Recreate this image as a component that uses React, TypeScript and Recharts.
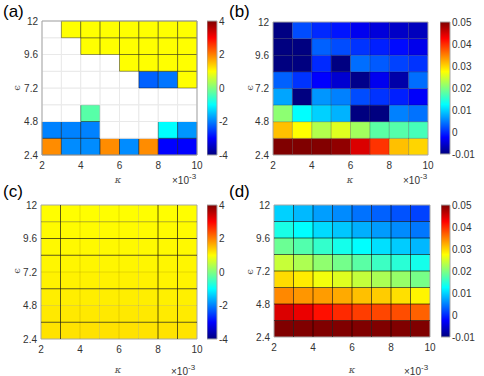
import React from 'react';
import { ComposedChart, XAxis, YAxis, ReferenceArea, ReferenceLine } from 'recharts';

// ---- data ----
const kappaEdges = [2, 3, 4, 5, 6, 7, 8, 9, 10];
const epsEdges = [2.4, 3.6, 4.8, 6.0, 7.2, 8.4, 9.6, 10.8, 12];
const kappaTicks = [2, 4, 6, 8, 10];
const epsTicks = [2.4, 4.8, 7.2, 9.6, 12];
const cbTicksA = [-4, -2, 0, 2, 4];
const cbTicksB = [-0.01, 0, 0.01, 0.02, 0.03, 0.04, 0.05];
const rangeA: [number, number] = [-4, 4];
const rangeB: [number, number] = [-0.01, 0.05];

// rows listed from bottom (eps 2.4-3.6) to top (eps 10.8-12); null = no value
const panelA: (number | null)[][] = [
  [1.9, -1.9, -1.9, 1.9, -1.9, 1.9, -3.0, -3.0],
  [-1.98, -1.98, -1.98, null, null, null, -1.0, -1.82],
  [null, null, -0.32, null, null, null, null, null],
  [null, null, null, null, null, null, null, null],
  [null, null, null, null, null, -2.24, -2.08, 1.0],
  [null, null, null, null, 1.0, 1.0, 1.0, 1.0],
  [null, null, 1.0, 1.0, 1.0, 1.0, 1.0, 1.0],
  [null, 1.0, 1.0, 1.0, 1.0, 1.0, 1.0, 1.0],
];
const panelB: number[][] = [
  [0.05, 0.05, 0.0498, 0.049, 0.0446, 0.0395, 0.0312, 0.03],
  [0.0312, 0.0275, 0.023, 0.0256, 0.022, 0.0178, 0.0175, 0.0166],
  [0.0208, 0.0125, 0.0098, 0.008, -0.01, -0.01, 0.0051, 0.0042],
  [0.0072, -0.01, 0.0063, 0.0051, 0.002, 0.0005, -0.0007, -0.0028],
  [0.0032, 0.0005, -0.0025, -0.0052, -0.0094, -0.0034, -0.0076, 0.004],
  [-0.01, -0.01, -0.0001, -0.0099, 0.004, 0.0028, 0.0014, 0.0005],
  [-0.01, -0.01, 0.0032, 0.002, 0.0005, -0.0007, -0.0019, -0.0037],
  [-0.0098, 0.002, -0.0001, -0.0013, -0.0034, -0.0046, -0.0058, -0.0064],
];
const panelC: number[][] = [
  [1.22, 1.22, 1.23, 1.23, 1.23, 1.22, 1.22, 1.21],
  [1.17, 1.17, 1.17, 1.17, 1.17, 1.17, 1.16, 1.16],
  [1.13, 1.13, 1.13, 1.13, 1.13, 1.13, 1.12, 1.12],
  [1.1, 1.1, 1.1, 1.1, 1.1, 1.1, 1.09, 1.09],
  [1.07, 1.07, 1.07, 1.07, 1.07, 1.07, 1.07, 1.07],
  [1.05, 1.05, 1.05, 1.05, 1.05, 1.05, 1.05, 1.05],
  [1.03, 1.03, 1.03, 1.03, 1.03, 1.03, 1.03, 1.03],
  [1.01, 1.01, 1.01, 1.01, 1.01, 1.01, 1.01, 1.01],
];
const panelD: number[][] = [
  [0.052, 0.052, 0.051, 0.051, 0.05, 0.05, 0.05, 0.05],
  [0.0446, 0.0437, 0.0416, 0.0401, 0.0389, 0.0384, 0.038, 0.0368],
  [0.0345, 0.0337, 0.0333, 0.0325, 0.0312, 0.0305, 0.0293, 0.0281],
  [0.0296, 0.0286, 0.0268, 0.0256, 0.024, 0.0225, 0.0213, 0.0195],
  [0.0242, 0.0227, 0.021, 0.0193, 0.0178, 0.016, 0.0149, 0.0137],
  [0.0188, 0.0173, 0.0155, 0.0137, 0.0125, 0.0107, 0.0095, 0.0083],
  [0.014, 0.0125, 0.0104, 0.0092, 0.0078, 0.0066, 0.0057, 0.0045],
  [0.0098, 0.0084, 0.0068, 0.0057, 0.0042, 0.0032, 0.0023, 0.0014],
];
// panel (c) edge lines
const cDarkX = [3, 8, 9];
const cFaintX = [4, 5, 6, 7];
const cDarkY = [3.6, 6.0, 8.4, 9.6];
const cMidY = [10.8];
const cFaintY = [4.8, 7.2];

// ---- helpers ----
const FONT = '"Liberation Sans", Arial, Helvetica, sans-serif';
const TXT = '#333333';

function clamp01(v: number) {
  return Math.max(0, Math.min(1, v));
}
function jet(v: number, range: [number, number]) {
  const t = clamp01((v - range[0]) / (range[1] - range[0]));
  const r = clamp01(1.5 - Math.abs(4 * t - 3));
  const g = clamp01(1.5 - Math.abs(4 * t - 2));
  const b = clamp01(1.5 - Math.abs(4 * t - 1));
  return `rgb(${Math.round(r * 255)},${Math.round(g * 255)},${Math.round(b * 255)})`;
}

const tickStyle = { fill: TXT, fontSize: 10, fontFamily: FONT };

type Margin = { top: number; right: number; bottom: number; left: number };

function Heatmap(props: {
  values: (number | null)[][];
  range: [number, number];
  left: number;
  top: number;
  width: number;
  height: number;
  margin: Margin;
  cellStroke?: string;
  lines?: { x?: number; y?: number; stroke: string }[];
}) {
  const { values, range, left, top, width, height, margin, cellStroke, lines } = props;
  const cells: React.ReactNode[] = [];
  values.forEach((row, ri) => {
    row.forEach((v, ci) => {
      const isNull = v === null;
      cells.push(
        <ReferenceArea
          key={`c-${ri}-${ci}`}
          x1={kappaEdges[ci]}
          x2={kappaEdges[ci + 1]}
          y1={epsEdges[ri]}
          y2={epsEdges[ri + 1]}
          fill={isNull ? '#ffffff' : jet(v as number, range)}
          fillOpacity={1}
          stroke={cellStroke ? (isNull ? '#e9e9e9' : cellStroke) : 'none'}
          strokeWidth={1}
          ifOverflow="visible"
        />
      );
    });
  });
  return (
    <div style={{ position: 'absolute', left, top, width, height }}>
      <ComposedChart width={width} height={height} margin={margin}>
        <XAxis
          type="number"
          dataKey="x"
          domain={[2, 10]}
          ticks={kappaTicks}
          allowDataOverflow
          axisLine={false}
          tickLine={false}
          tickSize={2}
          tickMargin={5}
          height={20}
          interval={0}
          tick={tickStyle}
        />
        <YAxis
          type="number"
          dataKey="y"
          domain={[2.4, 12]}
          ticks={epsTicks}
          allowDataOverflow
          axisLine={false}
          tickLine={false}
          tickSize={2}
          tickMargin={2}
          width={30}
          interval={0}
          tick={tickStyle}
          tickFormatter={(v: number) => String(v)}
        />
        {cells}
        {(lines || []).map((l, i) =>
          l.x !== undefined ? (
            <ReferenceLine key={`lx${i}`} x={l.x} stroke={l.stroke} strokeWidth={1} ifOverflow="visible" />
          ) : (
            <ReferenceLine key={`ly${i}`} y={l.y} stroke={l.stroke} strokeWidth={1} ifOverflow="visible" />
          )
        )}
        <ReferenceArea
          x1={2}
          x2={10}
          y1={2.4}
          y2={12}
          fill="none"
          fillOpacity={0}
          stroke="#a6a6a6"
          strokeWidth={1}
          ifOverflow="visible"
        />
      </ComposedChart>
    </div>
  );
}

function Colorbar(props: {
  range: [number, number];
  ticks: number[];
  left: number;
  top: number;
  width: number;
  height: number;
  margin: Margin;
  axisWidth: number;
}) {
  const { range, ticks, left, top, width, height, margin, axisWidth } = props;
  return (
    <div style={{ position: 'absolute', left, top, width, height }}>
      <ComposedChart width={width} height={height} margin={margin}>
        <XAxis type="number" dataKey="x" domain={[0, 1]} hide allowDataOverflow />
        <YAxis
          type="number"
          dataKey="y"
          orientation="right"
          domain={range}
          ticks={ticks}
          allowDataOverflow
          axisLine={false}
          tickLine={false}
          tickSize={2}
          tickMargin={0}
          width={axisWidth}
          interval={0}
          tick={{ ...tickStyle, textAnchor: 'start' }}
          tickFormatter={(v: number) => String(v)}
        />
        <ReferenceArea
          x1={0}
          x2={1}
          y1={range[0]}
          y2={range[1]}
          fill="url(#jetGrad)"
          fillOpacity={1}
          stroke="#a6a6a6"
          strokeWidth={1}
          ifOverflow="visible"
        />
      </ComposedChart>
    </div>
  );
}

const panelLabels = [
  { t: '(a)', x: 3, y: 17 },
  { t: '(b)', x: 229, y: 17 },
  { t: '(c)', x: 3, y: 197 },
  { t: '(d)', x: 229, y: 197 },
];
const kappaLabels = [
  { x: 118, y: 183 },
  { x: 350, y: 183 },
  { x: 118, y: 373 },
  { x: 352, y: 373 },
];
const epsLabels = [
  { x: 16, y: 88 },
  { x: 249, y: 88 },
  { x: 16, y: 271 },
  { x: 249, y: 272 },
];
const scaleLabels = [
  { x: 172, y: 184 },
  { x: 403, y: 184 },
  { x: 171, y: 375 },
  { x: 404, y: 375 },
];

export default function App() {
  const cLines = [
    ...cFaintX.map((x) => ({ x, stroke: 'rgba(150,130,0,0.25)' })),
    ...cFaintY.map((y) => ({ y, stroke: 'rgba(150,130,0,0.25)' })),
    ...cMidY.map((y) => ({ y, stroke: 'rgba(80,70,0,0.45)' })),
    ...cDarkX.map((x) => ({ x, stroke: 'rgba(40,35,0,0.75)' })),
    ...cDarkY.map((y) => ({ y, stroke: 'rgba(40,35,0,0.75)' })),
  ];
  const innerX = kappaEdges.slice(1, -1);
  const innerY = epsEdges.slice(1, -1);
  const bLines = [
    ...innerX.map((x) => ({ x, stroke: 'rgba(0,0,0,0.25)' })),
    ...innerY.map((y) => ({ y, stroke: 'rgba(0,0,0,0.25)' })),
  ];
  const dLines = [
    ...innerX.map((x) => ({ x, stroke: 'rgba(0,0,0,0.6)' })),
    ...innerY.map((y) => ({ y, stroke: 'rgba(0,0,0,0.6)' })),
  ];
  return (
    <div style={{ position: 'absolute', left: 0, top: 0, width: 484, height: 376, background: '#fff', overflow: 'hidden' }}>
      <svg width={0} height={0} style={{ position: 'absolute' }}>
        <defs>
          <linearGradient id="jetGrad" x1="0" y1="1" x2="0" y2="0">
            <stop offset="0" stopColor="#000080" />
            <stop offset="0.125" stopColor="#0000ff" />
            <stop offset="0.375" stopColor="#00ffff" />
            <stop offset="0.625" stopColor="#ffff00" />
            <stop offset="0.875" stopColor="#ff0000" />
            <stop offset="1" stopColor="#800000" />
          </linearGradient>
        </defs>
      </svg>

      <Heatmap
        values={panelA}
        range={rangeA}
        left={0}
        top={0}
        width={242}
        height={186}
        margin={{ top: 21, right: 45, bottom: 11, left: 12 }}
        cellStroke="rgba(0,0,0,0.4)"
      />
      <Heatmap
        values={panelB}
        range={rangeB}
        left={242}
        top={0}
        width={242}
        height={186}
        margin={{ top: 22, right: 56, bottom: 11, left: 1 }}
        lines={bLines}
      />
      <Heatmap
        values={panelC}
        range={rangeA}
        left={0}
        top={186}
        width={242}
        height={190}
        margin={{ top: 19, right: 45, bottom: 17, left: 11 }}
        lines={cLines}
      />
      <Heatmap
        values={panelD}
        range={rangeB}
        left={242}
        top={186}
        width={242}
        height={190}
        margin={{ top: 19, right: 54, bottom: 19, left: 2 }}
        lines={dLines}
      />

      <Colorbar range={rangeA} ticks={cbTicksA} left={207} top={0} width={40} height={186} margin={{ top: 21, right: 0, bottom: 31, left: 0 }} axisWidth={30} />
      <Colorbar range={rangeB} ticks={cbTicksB} left={440} top={0} width={44} height={186} margin={{ top: 22, right: 0, bottom: 32, left: 0 }} axisWidth={34} />
      <Colorbar range={rangeA} ticks={cbTicksA} left={207} top={186} width={40} height={190} margin={{ top: 19, right: 0, bottom: 37, left: 0 }} axisWidth={30} />
      <Colorbar range={rangeB} ticks={cbTicksB} left={441} top={186} width={43} height={190} margin={{ top: 19, right: 0, bottom: 39, left: 0 }} axisWidth={34} />

      <svg width={484} height={376} style={{ position: 'absolute', left: 0, top: 0, pointerEvents: 'none' }}>
        {panelLabels.map((p) => (
          <text key={p.t} x={p.x} y={p.y} fontSize={17} fontFamily={FONT} fill="#000">
            {p.t}
          </text>
        ))}
        {kappaLabels.map((p, i) => (
          <text key={`k${i}`} x={p.x} y={p.y} fontSize={10} fontFamily='"DejaVu Serif", serif' fontStyle="italic" fill="#555" textAnchor="middle">
            κ
          </text>
        ))}
        {epsLabels.map((p, i) => (
          <text
            key={`e${i}`}
            x={p.x}
            y={p.y}
            fontSize={10}
            fontFamily='"DejaVu Serif", serif'
            fill="#555"
            textAnchor="middle"
            dominantBaseline="central"
            transform={`rotate(-90 ${p.x} ${p.y})`}
          >
            ϵ
          </text>
        ))}
        {scaleLabels.map((p, i) => (
          <text key={`s${i}`} x={p.x} y={p.y} fontSize={10} fontFamily={FONT} fill={TXT}>
            ×10
            <tspan dy={-5} fontSize={8}>
              -3
            </tspan>
          </text>
        ))}
      </svg>
    </div>
  );
}
